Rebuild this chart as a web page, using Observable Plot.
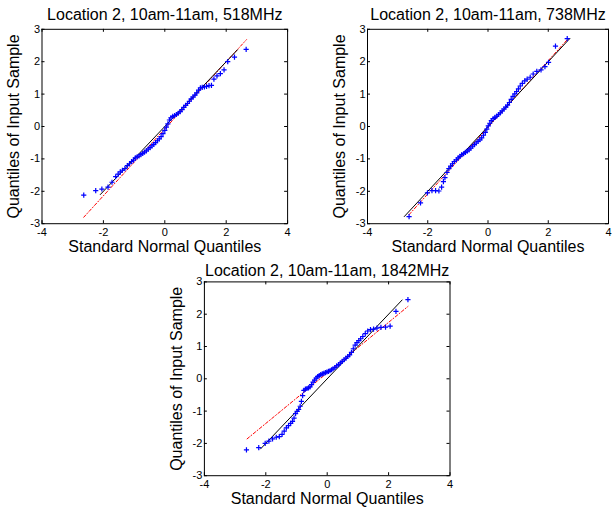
<!DOCTYPE html>
<html><head><meta charset="utf-8">
<script src="https://cdn.jsdelivr.net/npm/d3@7"></script>
<script src="https://cdn.jsdelivr.net/npm/@observablehq/plot@0.6"></script>
<style>
html,body{margin:0;padding:0;background:#fff;}
#root{position:relative;width:613px;height:508px;overflow:hidden;background:#fff;font-family:"Liberation Sans",Arial,sans-serif;}
#root svg{position:absolute;}
</style></head><body><div id="root"></div>
<script>
const titles = ["Location 2, 10am-11am, 518MHz", "Location 2, 10am-11am, 738MHz", "Location 2, 10am-11am, 1842MHz"];
const xLabel = "Standard Normal Quantiles";
const yLabel = "Quantiles of Input Sample";
const xTicks = [-4, -2, 0, 2, 4];
const yTicks = [-3, -2, -1, 0, 1, 2, 3];

// Panel 1: 518MHz
const x518 = [-2.64,-2.25,-2.05,-1.85,-1.72,-1.60,-1.52,-1.45,-1.38,-1.30,-1.22,-1.15,-1.08,-1.02,-0.96,-0.90,-0.84,-0.78,-0.72,-0.66,-0.60,-0.54,-0.48,-0.42,-0.36,-0.30,-0.24,-0.18,-0.12,-0.06,0.00,0.05,0.10,0.15,0.20,0.26,0.32,0.38,0.44,0.50,0.56,0.62,0.68,0.74,0.80,0.86,0.92,0.98,1.04,1.10,1.16,1.22,1.29,1.36,1.44,1.52,1.60,1.70,1.81,1.93,2.05,2.27,2.65];
const y518 = [-2.12,-1.98,-1.93,-1.87,-1.72,-1.55,-1.47,-1.40,-1.35,-1.30,-1.21,-1.15,-1.08,-1.04,-0.97,-0.94,-0.91,-0.87,-0.83,-0.79,-0.75,-0.70,-0.65,-0.60,-0.55,-0.50,-0.44,-0.38,-0.31,-0.22,-0.12,-0.02,0.08,0.20,0.27,0.31,0.34,0.37,0.41,0.46,0.52,0.59,0.65,0.71,0.78,0.85,0.91,0.97,1.04,1.12,1.19,1.21,1.22,1.24,1.26,1.27,1.46,1.56,1.63,1.75,2.00,2.14,2.38];
const fitX518 = [-2.10, 2.37];
const fitY518 = [-2.10, 2.37];
const refX518 = [-2.64, 2.66];
const refY518 = [-2.80, 2.68];

// Panel 2: 738MHz
const x738 = [-2.62,-2.24,-2.01,-1.86,-1.74,-1.63,-1.54,-1.48,-1.43,-1.36,-1.30,-1.24,-1.18,-1.12,-1.05,-0.99,-0.93,-0.87,-0.81,-0.75,-0.69,-0.63,-0.57,-0.51,-0.45,-0.39,-0.33,-0.27,-0.21,-0.15,-0.09,-0.04,0.01,0.06,0.11,0.17,0.23,0.29,0.35,0.41,0.47,0.53,0.59,0.65,0.71,0.77,0.83,0.89,0.95,1.01,1.07,1.14,1.22,1.30,1.40,1.50,1.62,1.76,1.89,2.01,2.24,2.63];
const y738 = [-2.78,-2.36,-2.05,-1.98,-1.98,-1.99,-1.87,-1.70,-1.58,-1.42,-1.30,-1.22,-1.15,-1.08,-1.03,-0.97,-0.92,-0.87,-0.84,-0.80,-0.76,-0.72,-0.67,-0.61,-0.56,-0.51,-0.46,-0.41,-0.35,-0.27,-0.18,-0.08,0.02,0.10,0.18,0.24,0.28,0.32,0.37,0.42,0.48,0.54,0.60,0.66,0.74,0.84,0.93,1.01,1.08,1.16,1.25,1.33,1.41,1.46,1.52,1.62,1.70,1.75,1.85,1.98,2.48,2.71];
const fitX738 = [-2.78, 2.72];
const fitY738 = [-2.78, 2.72];
const refX738 = [-2.62, 2.63];
const refY738 = [-2.72, 2.68];

// Panel 3: 1842MHz
const x1842 = [-2.63,-2.23,-2.02,-1.90,-1.78,-1.66,-1.56,-1.47,-1.40,-1.33,-1.26,-1.19,-1.13,-1.08,-1.03,-0.98,-0.93,-0.88,-0.84,-0.80,-0.76,-0.71,-0.66,-0.61,-0.56,-0.51,-0.46,-0.41,-0.36,-0.31,-0.26,-0.21,-0.16,-0.11,-0.06,-0.01,0.04,0.09,0.14,0.19,0.25,0.31,0.37,0.43,0.49,0.55,0.61,0.67,0.73,0.79,0.85,0.91,0.97,1.03,1.09,1.16,1.24,1.32,1.41,1.51,1.62,1.75,1.90,2.05,2.24,2.63];
const y1842 = [-2.20,-2.13,-2.00,-1.93,-1.86,-1.81,-1.79,-1.72,-1.62,-1.52,-1.45,-1.38,-1.32,-1.22,-1.08,-1.01,-0.95,-0.85,-0.70,-0.52,-0.36,-0.32,-0.30,-0.28,-0.25,-0.18,-0.10,-0.04,0.02,0.07,0.10,0.13,0.15,0.17,0.19,0.21,0.23,0.25,0.28,0.31,0.35,0.40,0.44,0.49,0.54,0.59,0.64,0.69,0.74,0.82,0.93,1.04,1.12,1.18,1.24,1.31,1.40,1.48,1.52,1.54,1.57,1.59,1.60,1.63,2.09,2.45];
const fitX1842 = [-2.17, 2.44];
const fitY1842 = [-2.17, 2.44];
const refX1842 = [-2.61, 2.63];
const refY1842 = [-1.86, 2.24];

const root = document.getElementById("root");
const zip = (a, b) => a.map((v, i) => ({x: v, y: b[i]}));

function panel(cfg) {
  const {xs, ys, fitX, fitY, refX, refY, title, left, top, width, height, ml, mt, mr, mb, tdy} = cfg;
  const iw = width - ml - mr, ih = height - mt - mb;
  const svg = Plot.plot({
    width, height,
    marginLeft: ml, marginTop: mt, marginRight: mr, marginBottom: mb,
    style: {background: "transparent", fontFamily: "'Liberation Sans', Arial, sans-serif", fontSize: "11px", color: "black", overflow: "visible"},
    x: {domain: [-4, 4]},
    y: {domain: [-3, 3]},
    marks: [
      Plot.line(zip(refX, refY), {x: "x", y: "y", stroke: "#ff0000", strokeWidth: 1, strokeDasharray: "3,2,1,2"}),
      Plot.line(zip(fitX, fitY), {x: "x", y: "y", stroke: "black", strokeWidth: 1}),
      Plot.dot(zip(xs, ys), {x: "x", y: "y", symbol: "plus", r: 1.8, stroke: "#0000ff", strokeWidth: 1.2}),
      Plot.frame({stroke: "black", strokeWidth: 1}),
      Plot.tickX(xTicks, {x: d => d, insetTop: ih - 3, stroke: "black"}),
      Plot.tickX(xTicks, {x: d => d, insetBottom: ih - 3, stroke: "black"}),
      Plot.tickY(yTicks, {y: d => d, insetRight: iw - 3, stroke: "black"}),
      Plot.tickY(yTicks, {y: d => d, insetLeft: iw - 3, stroke: "black"}),
      Plot.axisX(xTicks, {tickSize: 0, tickPadding: 4, label: null, tickFormat: d => String(d), fontSize: 11}),
      Plot.axisY(yTicks, {tickSize: 0, tickPadding: 2, label: null, tickFormat: d => String(d), fontSize: 11}),
      Plot.text([title], {text: d => d, frameAnchor: "top", dy: tdy, fontSize: 16, lineAnchor: "middle", textAnchor: "middle", fill: "black"}),
      Plot.text([xLabel], {text: d => d, frameAnchor: "bottom", dy: 23, fontSize: 16, lineAnchor: "middle", textAnchor: "middle", fill: "black"}),
      Plot.text([yLabel], {text: d => d, frameAnchor: "left", dx: -28, rotate: -90, fontSize: 16, lineAnchor: "middle", textAnchor: "middle", fill: "black"})
    ]
  });
  svg.style.left = left + "px";
  svg.style.top = top + "px";
  svg.style.background = "transparent";
  root.appendChild(svg);
}

panel({xs: x518, ys: y518, fitX: fitX518, fitY: fitY518, refX: refX518, refY: refY518, title: titles[0],
  left: 0, top: 0, width: 300, height: 256, ml: 41.5, mt: 28.8, mr: 12.9, mb: 32.8, tdy: -14.6});
panel({xs: x738, ys: y738, fitX: fitX738, fitY: fitY738, refX: refX738, refY: refY738, title: titles[1],
  left: 306, top: 0, width: 307, height: 256, ml: 61, mt: 28.8, mr: 5, mb: 32.8, tdy: -14.6});
panel({xs: x1842, ys: y1842, fitX: fitX1842, fitY: fitY1842, refX: refX1842, refY: refY1842, title: titles[2],
  left: 150, top: 250, width: 310, height: 258, ml: 53.9, mt: 31.4, mr: 10.5, mb: 32.8, tdy: -11.5});
</script></body></html>
